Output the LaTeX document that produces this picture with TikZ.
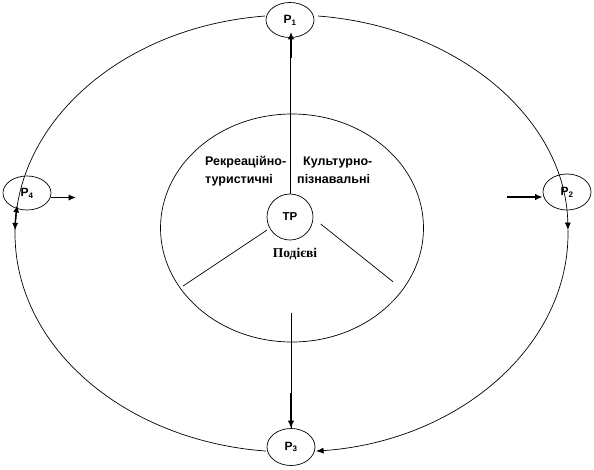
\documentclass[tikz,border=0pt]{standalone}
\usepackage{fontspec}
\setmainfont{Liberation Sans}
\newfontfamily\serifbold{Liberation Serif}
\usetikzlibrary{arrows.meta,shapes.geometric,calc}
\begin{document}
\begin{tikzpicture}[x=1pt,y=1pt,
  pnode/.style={draw,ellipse,line width=0.7pt,minimum width=48pt,minimum height=35pt,inner sep=0pt,font=\fontsize{12}{13}\selectfont\bfseries},
  ln/.style={line width=0.7pt},
  tipln/.style={line width=0.7pt,-{Latex[length=7.5pt,width=6pt]}},
  tiparc/.style={line width=1.3pt,-{Latex[length=7.5pt,width=6pt]}},
  thickarrow/.style={line width=1.7pt,-{Latex[length=7.5pt,width=6.5pt]}},
  lab/.style={font=\fontsize{12.5}{14}\selectfont\bfseries,inner sep=0pt,anchor=base west},
  arcr/.style={x radius=276.5pt,y radius=218.5pt}]
\useasboundingbox (0,0) rectangle (594,-469);

% nodes
\node[pnode,minimum height=35pt] (P1) at (290,-20) {P\textsubscript{1}};
\node[pnode,minimum height=36pt] (P2) at (567,-192) {P\textsubscript{2}};
\node[pnode,minimum height=37pt] (P3) at (291,-447) {P\textsubscript{3}};
\node[pnode,minimum height=34pt] (P4) at (27,-193) {P\textsubscript{4}};
\node[draw,ellipse,ln,minimum width=263pt,minimum height=228pt] (IN) at (292,-228) {};
\node[draw,circle,ln,minimum size=46pt,inner sep=0pt,font=\fontsize{11.5}{12}\selectfont\bfseries] (TP) at (290,-217) {TP};

% texts
\node[lab] (t1) at (205,-165) {Рекреаційно-};
\node[lab] (t2) at (205,-183.5) {туристичні};
\node[lab] (t3) at (303,-165) {Культурно-};
\node[lab] (t4) at (297,-183.5) {пізнавальні};
\node[font=\fontsize{13.5}{15}\selectfont\serifbold\bfseries,inner sep=0pt,anchor=base] (t5) at (295,-257) {Подієві};

% outer ring
\coordinate (O) at (291.5,-233.5);
\draw[ln] (O) ++(95.5:276.5pt and 218.5pt) arc[start angle=95.5,end angle=264.7,arcr];
\draw[tiparc] (O) ++(176.5:276.5pt and 218.5pt) arc[start angle=176.5,end angle=172.5,arcr];
\draw[tiparc] (O) ++(175:276.5pt and 218.5pt) arc[start angle=175,end angle=179.2,arcr];
\draw[tipln] (O) ++(84.5:276.5pt and 218.5pt) arc[start angle=84.5,end angle=0.9,arcr];
\draw[tipln] (O) ++(0.9:276.5pt and 218.5pt) arc[start angle=0.9,end angle=-84.9,arcr];

% vertical connectors
\draw[ln] (TP.north) -- (P1.south);
\coordinate (u0) at (291,-58);
\draw[thickarrow,shorten >=-6pt] (u0) -- (u0 |- P1.south);
\coordinate (b0) at (291,-312.7);
\coordinate (b1) at (291,-393);
\draw[ln] (b0) -- (b0 |- P3.north);
\draw[thickarrow] (b1) -- (b1 |- P3.north);

% sector dividers
\coordinate (l0) at (267,-230);
\coordinate (l1) at (183,-286);
\coordinate (r0) at (320.7,-224);
\coordinate (r1) at (393,-281.7);
\draw[ln] (l0) -- (l1);
\draw[ln] (r0) -- (r1);

% side arrows
\coordinate (a4) at (76,-197.5);
\draw[thickarrow] (P4.east |- a4) -- (a4);
\coordinate (a2) at (507,-197);
\draw[thickarrow] (a2) -- (a2 -| P2.west);
\end{tikzpicture}
\end{document}
